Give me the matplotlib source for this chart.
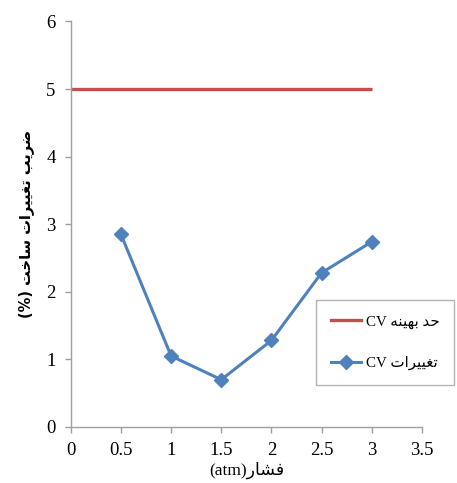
import matplotlib
matplotlib.use("Agg")
import matplotlib.pyplot as plt
from matplotlib.lines import Line2D

# ---- data ----
pressure = [0.5, 1.0, 1.5, 2.0, 2.5, 3.0]
cv_values = [2.85, 1.05, 0.70, 1.28, 2.28, 2.74]
limit_x = [0.0, 3.0]
limit_y = [5.0, 5.0]
xticks = [0, 0.5, 1, 1.5, 2, 2.5, 3, 3.5]
yticks = [0, 1, 2, 3, 4, 5, 6]

# ---- minimal Persian shaping (visual order) ----
FORMS = {
    'ا': ('\uFE8D', '\uFE8E'),
    'ب': ('\uFE8F', '\uFE90', '\uFE91', '\uFE92'),
    'ت': ('\uFE95', '\uFE96', '\uFE97', '\uFE98'),
    'ح': ('\uFEA1', '\uFEA2', '\uFEA3', '\uFEA4'),
    'خ': ('\uFEA5', '\uFEA6', '\uFEA7', '\uFEA8'),
    'د': ('\uFEA9', '\uFEAA'),
    'ر': ('\uFEAD', '\uFEAE'),
    'س': ('\uFEB1', '\uFEB2', '\uFEB3', '\uFEB4'),
    'ش': ('\uFEB5', '\uFEB6', '\uFEB7', '\uFEB8'),
    'ض': ('\uFEBD', '\uFEBE', '\uFEBF', '\uFEC0'),
    'غ': ('\uFECD', '\uFECE', '\uFECF', '\uFED0'),
    'ف': ('\uFED1', '\uFED2', '\uFED3', '\uFED4'),
    'ن': ('\uFEE5', '\uFEE6', '\uFEE7', '\uFEE8'),
    'ه': ('\uFEE9', '\uFEEA', '\uFEEB', '\uFEEC'),
    'ی': ('\uFEF1', '\uFEF2', '\uFEF3', '\uFEF4'),
}
MIRROR = {'(': ')', ')': '('}


def visual(s):
    out = []
    n = len(s)
    for i, c in enumerate(s):
        if c not in FORMS:
            out.append(MIRROR.get(c, c))
            continue
        f = FORMS[c]
        prev = s[i - 1] if i > 0 else None
        nxt = s[i + 1] if i + 1 < n else None
        jp = prev in FORMS and len(FORMS[prev]) == 4
        jn = len(f) == 4 and nxt in FORMS
        if jp and jn:
            out.append(f[3])
        elif jp:
            out.append(f[1])
        elif jn:
            out.append(f[2])
        else:
            out.append(f[0])
    return ''.join(reversed(out))


ylabel_txt = visual('ضریب تغییرات ساخت (%)')
xlabel_txt = '(atm)' + visual('فشار')
leg1 = 'CV ' + visual('حد بهینه')
leg2 = 'CV ' + visual('تغییرات')

FONTS = ['Liberation Serif', 'DejaVu Sans']
plt.rcParams['font.family'] = FONTS

RED = '#C0504D'
BLUE = '#4F81BD'
GRAY = '#A0A0A0'

fig = plt.figure(figsize=(4.57, 4.83), dpi=100)
ax = fig.add_axes([0.155, 0.116, 0.768, 0.8395])

ax.plot(limit_x, limit_y, color=RED, lw=2.4, solid_capstyle='butt')
ax.plot(pressure, cv_values, color=BLUE, lw=2.2, marker='D', ms=7,
        markerfacecolor=BLUE, markeredgecolor=BLUE)

ax.set_xlim(0, 3.5)
ax.set_ylim(0, 6)
ax.set_xticks(xticks)
ax.set_xticklabels([f'{t:g}' for t in xticks])
ax.set_yticks(yticks)
for s in ['top', 'right']:
    ax.spines[s].set_visible(False)
for s in ['left', 'bottom']:
    ax.spines[s].set_color(GRAY)
    ax.spines[s].set_linewidth(1.0)
ax.tick_params(axis='both', colors=GRAY, labelcolor='black', labelsize=13.5,
               length=4, width=1.0, direction='out')
ax.tick_params(axis='x', pad=7)
ax.tick_params(axis='y', pad=7)

ax.set_xlabel(xlabel_txt, fontsize=12.5, labelpad=2)
ax.set_ylabel(ylabel_txt, fontsize=10.5, labelpad=9, fontweight='bold',
              family=['DejaVu Sans'])

handles = [Line2D([], [], color=RED, lw=2.4),
           Line2D([], [], color=BLUE, lw=2.2, marker='D', ms=7)]
leg = fig.legend(handles, [leg1, leg2], loc='upper left',
                 bbox_to_anchor=(316 / 457, 1 - 300 / 483),
                 frameon=True, fancybox=False, prop={'size': 10.8},
                 handlelength=2.0, labelspacing=1.8, borderpad=1.0,
                 handletextpad=0.3, borderaxespad=0)
leg.get_frame().set_edgecolor(GRAY)
leg.get_frame().set_linewidth(1.0)

fig.savefig('out.png', dpi=100)
